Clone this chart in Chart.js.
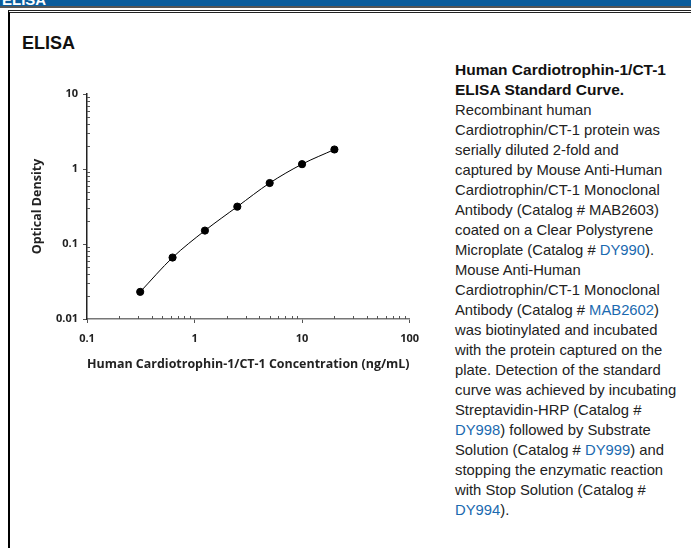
<!DOCTYPE html>
<html>
<head>
<meta charset="utf-8">
<script src="https://cdn.jsdelivr.net/npm/chart.js@4.4.1/dist/chart.umd.min.js"></script>
<style>
  html, body { margin: 0; overflow: hidden; }
  body { width: 691px; height: 548px; background: #fff; font-family: "Liberation Sans", Arial, sans-serif; position: relative; }
  #bar { position: absolute; left: 0; top: 0; width: 691px; height: 6px; background: #0a5c9c; overflow: hidden; }
  #bar span { position: absolute; left: 2px; top: -9px; color: #fff; font-weight: bold; font-size: 15px; }
  #rule1 { position: absolute; left: 0; top: 6px; width: 691px; height: 2px; background: #555; }
  #box { position: absolute; left: 8px; top: 10px; width: 683px; height: 538px; border-left: 2px solid #000; border-top: 3px double #222; box-sizing: border-box; }
  #head { position: absolute; left: 22px; top: 33px; font-weight: bold; font-size: 18px; color: #111; }
  #wrap { position: absolute; left: 20px; top: 80px; width: 408px; height: 295px; }
  #note { position: absolute; left: 455px; top: 60px; font-size: 14.8px; line-height: 20px; color: #222; white-space: nowrap; }
  #note b { color: #111; font-size: 15.5px; }
  #note a { color: #1b6ab0; text-decoration: none; }
</style>
</head>
<body>
<div id="bar"><span>ELISA</span></div>
<div id="rule1"></div>
<div id="box"></div>
<div id="head">ELISA</div>
<div id="wrap"><canvas id="chart"></canvas></div>
<div id="note">
<b>Human Cardiotrophin-1/CT-1<br>ELISA Standard Curve.</b><br>
Recombinant human<br>
Cardiotrophin/CT-1 protein was<br>
serially diluted 2-fold and<br>
captured by Mouse Anti-Human<br>
Cardiotrophin/CT-1 Monoclonal<br>
Antibody (Catalog # MAB2603)<br>
coated on a Clear Polystyrene<br>
Microplate (Catalog # <a>DY990</a>).<br>
Mouse Anti-Human<br>
Cardiotrophin/CT-1 Monoclonal<br>
Antibody (Catalog # <a>MAB2602</a>)<br>
was biotinylated and incubated<br>
with the protein captured on the<br>
plate. Detection of the standard<br>
curve was achieved by incubating<br>
Streptavidin-HRP (Catalog #<br>
<a>DY998</a>) followed by Substrate<br>
Solution (Catalog # <a>DY999</a>) and<br>
stopping the enzymatic reaction<br>
with Stop Solution (Catalog #<br>
<a>DY994</a>).
</div>
<script>
'use strict';

// standard curve
let concentrations = [0.3125, 0.625, 1.25, 2.5, 5, 10, 20];
let opticalDensity = [0.023, 0.066, 0.151, 0.315, 0.65, 1.16, 1.82];
let xTickLabels = ['0.1', '1', '10', '100'];
let yTickLabels = ['0.01', '0.1', '1', '10'];

function isDecade(v) {
  let l = Math.log10(v);
  return Math.abs(l - Math.round(l)) < 1e-6;
}

function decadeLabel(v, list) {
  let hit = list.find(s => Math.abs(parseFloat(s) - v) < v * 1e-6);
  return hit || '';
}

// small inward minor ticks like the original figure
let minorTicks = {
  id: 'minorTicks',
  afterDraw(chart) {
    let ctx = chart.ctx;
    let x = chart.scales.x, y = chart.scales.y;
    ctx.save();
    ctx.lineWidth = 1;
    ctx.strokeStyle = '#555';
    ctx.beginPath();
    for (let d = 0.1; d < 100; d *= 10) {
      for (let m = 2; m < 10; m++) {
        let px = Math.round(x.getPixelForValue(d * m)) + 0.5;
        ctx.moveTo(px, x.top);
        ctx.lineTo(px, x.top - 3);
      }
    }
    for (let d = 0.01; d < 10; d *= 10) {
      for (let m = 2; m < 10; m++) {
        let py = Math.round(y.getPixelForValue(d * m)) + 0.5;
        ctx.moveTo(y.right, py);
        ctx.lineTo(y.right + 3, py);
      }
    }
    ctx.stroke();
    ctx.restore();
  }
};

let points = concentrations.map((c, i) => ({ x: c, y: opticalDensity[i] }));

let tickFont = { family: 'Open Sans', size: 11, weight: 'bold' };
let titleFont = { family: 'Open Sans', size: 12.5, weight: 'bold' };

new Chart(document.getElementById('chart'), {
  type: 'line',
  data: {
    datasets: [{
      data: points,
      borderColor: '#000',
      borderWidth: 1,
      backgroundColor: '#000',
      pointRadius: 3.6,
      pointHoverRadius: 3.6,
      cubicInterpolationMode: 'monotone'
    }]
  },
  options: {
    responsive: true,
    maintainAspectRatio: false,
    animation: false,
    layout: { autoPadding: false, padding: { top: 14, right: 11, left: 0, bottom: 0 } },
    plugins: { legend: { display: false }, tooltip: { enabled: false } },
    scales: {
      x: {
        type: 'logarithmic',
        min: 0.1,
        max: 100,
        border: { color: '#777', width: 1.5 },
        grid: {
          drawOnChartArea: false,
          tickLength: 4,
          tickColor: c => (c.tick && isDecade(c.tick.value)) ? '#555' : 'rgba(0,0,0,0)'
        },
        ticks: {
          autoSkip: false,
          maxRotation: 0,
          padding: 9,
          color: '#222',
          font: tickFont,
          callback: v => isDecade(v) ? decadeLabel(v, xTickLabels) : ''
        },
        title: {
          display: true,
          text: 'Human Cardiotrophin-1/CT-1 Concentration (ng/mL)',
          color: '#222',
          padding: { top: 5, bottom: 3 },
          font: titleFont
        },
        afterFit: s => { s.height = 56; }
      },
      y: {
        type: 'logarithmic',
        min: 0.01,
        max: 10,
        border: { color: '#222', width: 1.5 },
        grid: {
          drawOnChartArea: false,
          tickLength: 4,
          tickColor: c => (c.tick && isDecade(c.tick.value)) ? '#555' : 'rgba(0,0,0,0)'
        },
        ticks: {
          autoSkip: false,
          padding: 5,
          color: '#222',
          font: tickFont,
          callback: v => isDecade(v) ? decadeLabel(v, yTickLabels) : ''
        },
        title: {
          display: true,
          text: 'Optical Density',
          color: '#222',
          padding: { top: 10, bottom: 0 },
          font: titleFont
        },
        afterFit: s => { s.width = 67; }
      }
    }
  },
  plugins: [minorTicks]
});
</script>
</body>
</html>
